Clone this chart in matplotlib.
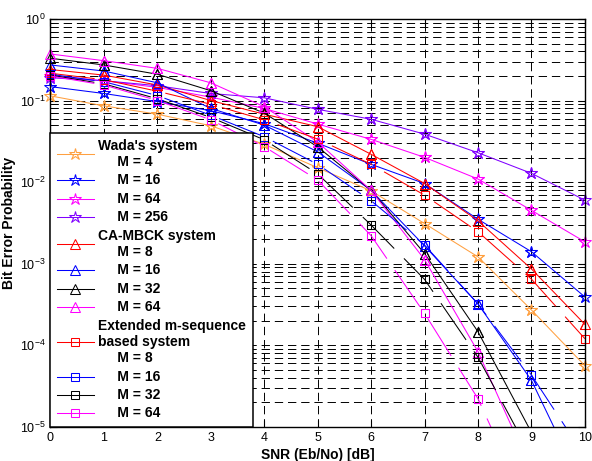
import numpy as np
import matplotlib
matplotlib.use('Agg')
import matplotlib.pyplot as plt
from matplotlib.ticker import LogLocator, NullFormatter

plt.rcParams['font.family'] = ['Liberation Sans', 'DejaVu Sans']
plt.rcParams['mathtext.fontset'] = 'custom'
plt.rcParams['mathtext.rm'] = 'Liberation Sans'
plt.rcParams['lines.scale_dashes'] = False

snr = np.arange(11)

# Wada's system (stars, solid)
wada_m4 = [0.114, 0.086, 0.068, 0.049, 0.029, 0.015, 7.8e-3, 3.1e-3, 1.21e-3, 2.7e-4, 5.6e-5]
wada_m16 = [0.148, 0.122, 0.097, 0.075, 0.052, 0.030, 0.0165, 9.6e-3, 3.5e-3, 1.4e-3, 3.9e-4]
wada_m64 = [0.20, 0.175, 0.145, 0.11, 0.08, 0.0515, 0.0334, 0.0201, 0.0109, 4.5e-3, 1.85e-3]
wada_m256 = [0.19, 0.175, 0.152, 0.122, 0.108, 0.078, 0.0589, 0.0387, 0.0229, 0.0128, 6.0e-3]

# CA-MBCK system (triangles, solid)
ca_m8 = [0.24, 0.205, 0.155, 0.10, 0.068, 0.0478, 0.0219, 9.6e-3, 3.35e-3, 8.6e-4, 1.8e-4]
ca_m16 = [0.273, 0.23, 0.165, 0.08, 0.05, 0.0235, 7.9e-3, 1.65e-3, 3.2e-4, 3.7e-5, 1.6e-6]
ca_m32 = [0.33, 0.273, 0.21, 0.132, 0.07, 0.027, 7.9e-3, 1.33e-3, 1.46e-4, 8.5e-6]
ca_m64 = [0.372, 0.308, 0.248, 0.165, 0.084, 0.031, 7.9e-3, 1.12e-3, 8.3e-5, 2.9e-6]

# Extended m-sequence based system (squares, dashed)
ext_m8 = [0.216, 0.18, 0.13, 0.09, 0.058, 0.0337, 0.0165, 6.9e-3, 2.46e-3, 6.45e-4, 1.2e-4]
ext_m16 = [0.21, 0.17, 0.115, 0.066, 0.036, 0.0165, 5.9e-3, 1.69e-3, 3.2e-4, 4.3e-5, 4.3e-6]
ext_m32 = [0.205, 0.16, 0.105, 0.062, 0.033, 0.0126, 2.97e-3, 6.4e-4, 7.1e-5, 4.3e-6]
ext_m64 = [0.20, 0.155, 0.10, 0.058, 0.0272, 0.0106, 2.2e-3, 2.45e-4, 2.2e-5, 8e-7]

labels = ["Wada's system\n     M = 4", "     M = 16", "     M = 64", "     M = 256",
          "CA-MBCK system\n     M = 8", "     M = 16", "     M = 32", "     M = 64",
          "Extended m-sequence\nbased system\n     M = 8", "     M = 16", "     M = 32", "     M = 64"]

orange = '#FFA040'
purple = '#8000FF'
solid = '-'
dash = (0, (32, 10))

series = [
    (wada_m4, orange, '*', 9, solid),
    (wada_m16, 'blue', '*', 9, solid),
    (wada_m64, 'magenta', '*', 9, solid),
    (wada_m256, purple, '*', 9, solid),
    (ca_m8, 'red', '^', 7.5, solid),
    (ca_m16, 'blue', '^', 7.5, solid),
    (ca_m32, 'black', '^', 7.5, solid),
    (ca_m64, 'magenta', '^', 7.5, solid),
    (ext_m8, 'red', 's', 6, dash),
    (ext_m16, 'blue', 's', 6, dash),
    (ext_m32, 'black', 's', 6, dash),
    (ext_m64, 'magenta', 's', 6, dash),
]

fig = plt.figure(figsize=(5.92, 4.61), dpi=100)
ax = fig.add_axes([0.0853, 0.0744, 0.9027, 0.8844])
ax.set_yscale('log')

handles = []
for vals, color, marker, ms, ls in series:
    x = snr[:len(vals)]
    y = np.array(vals)
    line, = ax.plot(x, y, color=color, lw=0.75, linestyle=ls, marker=marker,
                    ms=ms, mfc='none', mec=color, mew=0.75)
    handles.append(line)
    inside = y >= 1e-5
    ax.plot(x[inside], y[inside], linestyle='none', marker=marker, ms=ms,
            mfc='none', mec=color, mew=0.75, clip_on=False)

ax.set_xlim(0, 10)
ax.set_ylim(1e-5, 1)
ax.set_xticks(snr)
ax.yaxis.set_major_locator(LogLocator(base=10))
ax.yaxis.set_minor_locator(LogLocator(base=10, subs=np.arange(2, 10), numticks=20))
ax.yaxis.set_minor_formatter(NullFormatter())

gridstyle = dict(color='k', lw=0.7, linestyle=(0, (6, 3.5)))
ax.grid(True, which='major', axis='both', **gridstyle)
ax.grid(True, which='minor', axis='y', **gridstyle)
ax.set_axisbelow(True)

ax.tick_params(which='both', direction='in', top=True, right=True, labelsize=9)
ax.tick_params(which='major', length=5)
ax.tick_params(which='minor', length=3)
for sp in ax.spines.values():
    sp.set_linewidth(1.0)

ax.set_xlabel('SNR (Eb/No) [dB]', fontsize=10, fontweight='bold', labelpad=3)
ax.set_ylabel('Bit Error Probability', fontsize=10, fontweight='bold', labelpad=3)

leg = ax.legend(handles, labels, loc='lower left', bbox_to_anchor=(0, 0),
                borderaxespad=0, fancybox=False, edgecolor='k', framealpha=1,
                prop={'weight': 'bold', 'size': 10}, handlelength=2.7,
                handletextpad=0.3, borderpad=0.45, labelspacing=0.32, numpoints=1)
leg.get_frame().set_linewidth(1.1)
for h in leg.legend_handles:
    h.set_linestyle('-')
for col in leg._legend_handle_box.get_children():
    for row in col.get_children():
        row.align = 'center'

fig.savefig('out.png', dpi=100)
